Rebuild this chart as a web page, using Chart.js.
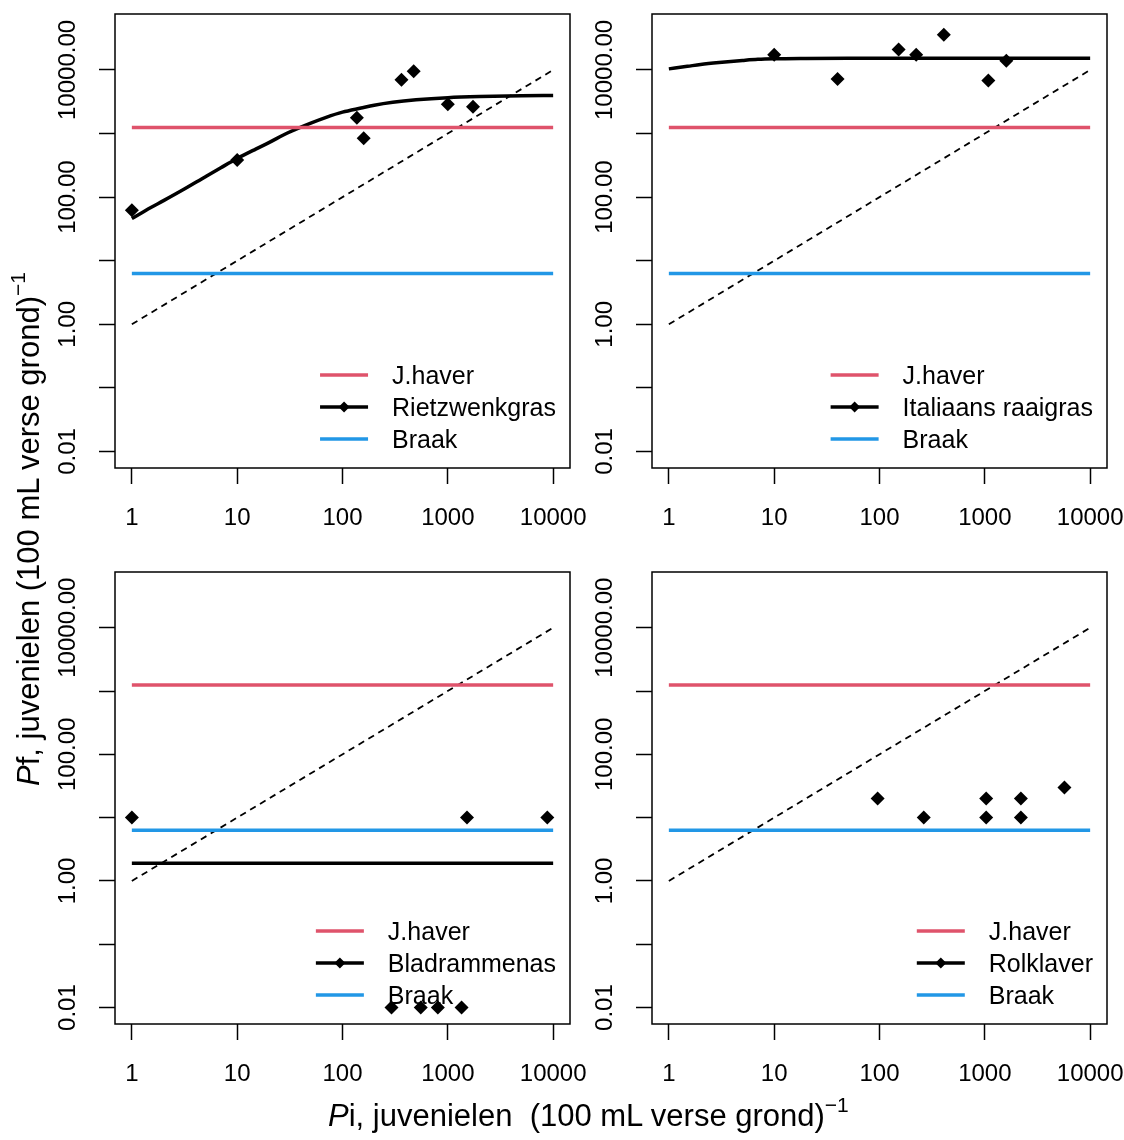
<!DOCTYPE html>
<html>
<head>
<meta charset="utf-8">
<script src="https://cdn.jsdelivr.net/npm/chart.js@4/dist/chart.umd.min.js"></script>
<style>
html,body{margin:0;padding:0;background:#fff;}
#wrap{position:relative;width:1124px;height:1140px;overflow:hidden;font-family:"Liberation Sans",Arial,sans-serif;background:#fff;}
canvas{position:absolute;left:0;top:0;}
.title{position:absolute;white-space:nowrap;font-size:31px;line-height:31px;color:#000;}
.title sup{font-size:21px;line-height:0;vertical-align:14px;}
</style>
</head>
<body>
<div id="wrap">
<canvas id="c0" width="1124" height="1140"></canvas>
<canvas id="c1" width="1124" height="1140"></canvas>
<canvas id="c2" width="1124" height="1140"></canvas>
<canvas id="c3" width="1124" height="1140"></canvas>
<div class="title" id="xt" style="left:328px;top:1100px;"><i>P</i>i, juvenielen&nbsp;&nbsp;(100 mL verse grond)<sup>−1</sup></div>
<div class="title" id="yt" style="left:13px;top:786px;transform-origin:0 0;transform:rotate(-90deg);"><i>P</i>f, juvenielen (100 mL verse grond)<sup>−1</sup></div>
</div>
<script>
// ---------- data ----------
const xTicks = [1, 10, 100, 1000, 10000];
const xTickLabels = ['1', '10', '100', '1000', '10000'];
const yTicks = [0.01, 0.1, 1, 10, 100, 1000, 10000];
const yTickLabels = ['0.01', '', '1.00', '', '100.00', '', '10000.00'];

const refPi = [1, 10000];
const jhaverPf = [1250, 1250];
const braakPf = [6.3, 6.3];
const diagPf = [1, 10000];

const speciesNames = ['Rietzwenkgras', 'Italiaans raaigras', 'Bladrammenas', 'Rolklaver'];

const rietObsPi = [1, 10, 137, 159, 363, 474, 1000, 1734];
const rietObsPf = [62, 384, 1770, 840, 7000, 9500, 2900, 2640];
const rietFitPi = [1, 1.5, 2, 3, 5, 7, 10, 15, 20, 30, 50, 70, 100, 150, 200, 300, 500, 1000, 2000, 5000, 10000];
const rietFitPf = [46, 68, 88, 128, 210, 290, 405, 570, 720, 1020, 1460, 1800, 2170, 2520, 2790, 3100, 3390, 3660, 3810, 3920, 3960];

const itaObsPi = [10, 40, 152, 223, 408, 1080, 1600];
const itaObsPf = [17400, 7220, 20900, 17400, 35900, 6800, 14000];
const itaFitPi = [1, 1.5, 2, 3, 5, 7, 10, 20, 50, 100, 1000, 10000];
const itaFitPf = [10400, 11400, 12200, 13100, 14100, 14700, 15000, 15200, 15300, 15300, 15300, 15300];

const bladObsPi = [1, 292, 553, 804, 1350, 1520, 8800];
const bladObsPf = [10, 0.01, 0.01, 0.01, 0.01, 10, 10];
const bladFitPi = [1, 10000];
const bladFitPf = [1.9, 1.9];

const rolObsPi = [96, 263, 1030, 1030, 2200, 2200, 5700];
const rolObsPf = [20, 10, 20, 10, 20, 10, 30];
const rolFitPi = [];
const rolFitPf = [];

// ---------- styling / layout ----------
const RED = '#DF536B', BLUE = '#2297E6', BLACK = '#000000';
const FONT = '"Liberation Sans", Arial, sans-serif';
Chart.defaults.font.family = FONT;
Chart.defaults.color = '#000';

const X_MIN = Math.pow(10, -0.16), X_MAX = Math.pow(10, 4.16);
const Y_MIN = Math.pow(10, -2.26), Y_MAX = Math.pow(10, 4.88);
const Y_W = 100, X_H = 60;

const mctx = document.createElement('canvas').getContext('2d');
mctx.font = '24px ' + FONT;
const widestY = mctx.measureText('10000.00').width;
const yPad = 31 - widestY / 2;

const boxes = [
  {l: 115, r: 570, t: 14, b: 468},
  {l: 652, r: 1107, t: 14, b: 468},
  {l: 115, r: 570, t: 572, b: 1024},
  {l: 652, r: 1107, t: 572, b: 1024}
];

function pts(xs, ys) { return xs.map((x, i) => ({x: x, y: ys[i]})); }

const decor = {
  id: 'decor',
  afterDatasetsDraw(chart, args, opts) {
    const ctx = chart.ctx, ca = chart.chartArea;
    ctx.save();
    // box
    ctx.strokeStyle = '#000';
    ctx.lineWidth = 1.5;
    ctx.strokeRect(ca.left, ca.top, ca.right - ca.left, ca.bottom - ca.top);
    // legend
    const labels = ['J.haver', opts.species, 'Braak'];
    const cols = [RED, BLACK, BLUE];
    ctx.font = '25px ' + FONT;
    const maxW = Math.max.apply(null, labels.map(l => ctx.measureText(l).width));
    const textX = ca.right - 14 - maxW;
    const x1 = textX - 72, x2 = textX - 24;
    const rows = [ca.bottom - 93, ca.bottom - 61, ca.bottom - 29];
    labels.forEach((lab, i) => {
      const y = rows[i];
      ctx.strokeStyle = cols[i];
      ctx.lineWidth = 3.5;
      ctx.beginPath(); ctx.moveTo(x1, y); ctx.lineTo(x2, y); ctx.stroke();
      if (i === 1) {
        const cx = (x1 + x2) / 2, r = 5.5;
        ctx.fillStyle = '#000';
        ctx.beginPath();
        ctx.moveTo(cx - r, y); ctx.lineTo(cx, y - r); ctx.lineTo(cx + r, y); ctx.lineTo(cx, y + r);
        ctx.closePath(); ctx.fill();
      }
      ctx.fillStyle = '#000';
      ctx.textAlign = 'left';
      ctx.textBaseline = 'middle';
      ctx.fillText(lab, textX, y + 2);
    });
    ctx.restore();
  }
};

function makePanel(idx, obsPi, obsPf, fitPi, fitPf) {
  const box = boxes[idx];
  const datasets = [
    {data: pts(refPi, jhaverPf), showLine: true, borderColor: RED, borderWidth: 3.5, pointRadius: 0},
    {data: pts(refPi, braakPf), showLine: true, borderColor: BLUE, borderWidth: 3.5, pointRadius: 0},
    {data: pts(refPi, diagPf), showLine: true, borderColor: BLACK, borderWidth: 1.8, borderDash: [6.5, 5], pointRadius: 0}
  ];
  if (fitPi.length) {
    datasets.push({data: pts(fitPi, fitPf), showLine: true, borderColor: BLACK, borderWidth: 3.5,
      pointRadius: 0, cubicInterpolationMode: 'monotone'});
  }
  datasets.push({data: pts(obsPi, obsPf), showLine: false, pointStyle: 'rectRot', pointRadius: 7,
    backgroundColor: BLACK, borderWidth: 0});

  const grid = {display: true, drawOnChartArea: false, drawTicks: true, tickLength: 16, tickColor: '#000', tickWidth: 1.5};

  return new Chart(document.getElementById('c' + idx), {
    type: 'scatter',
    data: {datasets: datasets},
    options: {
      responsive: false,
      animation: false,
      devicePixelRatio: 1,
      events: [],
      layout: {padding: {left: box.l - Y_W, right: 1124 - box.r, top: box.t, bottom: 1140 - box.b - X_H}},
      plugins: {
        legend: {display: false},
        tooltip: {enabled: false},
        decor: {species: speciesNames[idx]}
      },
      scales: {
        x: {
          type: 'logarithmic', position: 'bottom', min: X_MIN, max: X_MAX,
          afterBuildTicks: s => { s.ticks = xTicks.map(v => ({value: v})); },
          afterFit: s => { s.height = X_H; s.paddingLeft = 0; s.paddingRight = 0; },
          ticks: {autoSkip: false, minRotation: 0, maxRotation: 0, padding: 20, color: '#000',
            font: {size: 24}, callback: (v, i) => xTickLabels[i]},
          grid: grid,
          border: {display: false}
        },
        y: {
          type: 'logarithmic', position: 'left', min: Y_MIN, max: Y_MAX,
          afterBuildTicks: s => { s.ticks = yTicks.map(v => ({value: v})); },
          afterFit: s => { s.width = Y_W; s.paddingTop = 0; s.paddingBottom = 0; },
          ticks: {autoSkip: false, minRotation: 90, maxRotation: 90, crossAlign: 'center', padding: yPad,
            color: '#000', font: {size: 24}, callback: (v, i) => yTickLabels[i]},
          grid: grid,
          border: {display: false}
        }
      }
    },
    plugins: [decor]
  });
}

makePanel(0, rietObsPi, rietObsPf, rietFitPi, rietFitPf);
makePanel(1, itaObsPi, itaObsPf, itaFitPi, itaFitPf);
makePanel(2, bladObsPi, bladObsPf, bladFitPi, bladFitPf);
makePanel(3, rolObsPi, rolObsPf, rolFitPi, rolFitPf);
</script>
</body>
</html>
